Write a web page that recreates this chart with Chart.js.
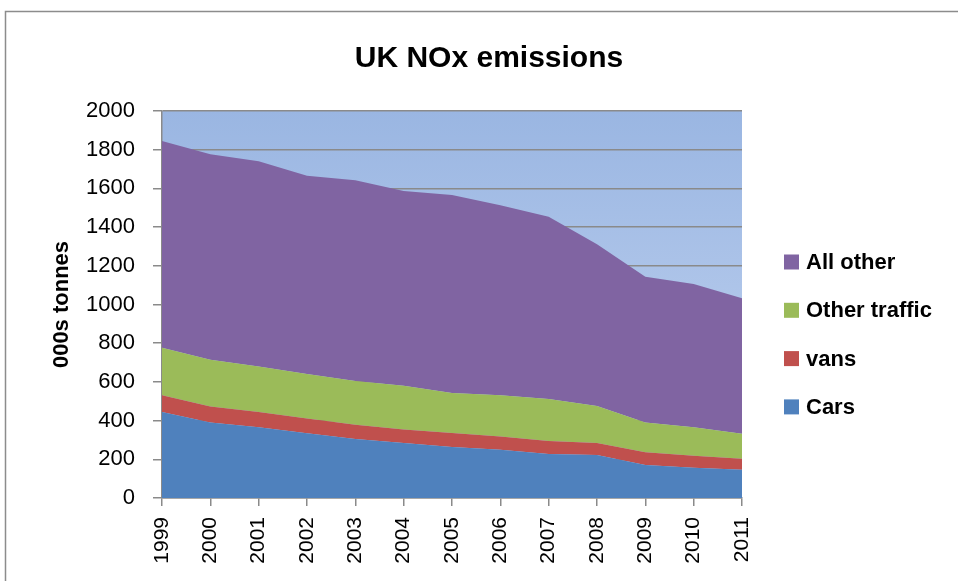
<!DOCTYPE html>
<html>
<head>
<meta charset="utf-8">
<title>UK NOx emissions</title>
<script src="https://cdn.jsdelivr.net/npm/chart.js@4/dist/chart.umd.min.js"></script>
<style>
  html, body { margin: 0; padding: 0; background: #ffffff; }
  #wrap { width: 958px; height: 581px; }
</style>
</head>
<body>
<div id="wrap"><canvas id="chart" width="958" height="581"></canvas></div>
<script>
// Years on the category axis
const years = ['1999', '2000', '2001', '2002', '2003', '2004', '2005', '2006', '2007', '2008', '2009', '2010', '2011'];

// Emissions by source, thousand tonnes (stacked from the bottom up)
const cars = [445, 390, 365, 335, 305, 284, 264, 249, 227, 222, 170, 156, 146];
const vans = [86, 83, 80, 76, 73, 70, 72, 69, 67, 62, 66, 62, 57];
const otherTraffic = [246, 241, 234, 230, 227, 226, 207, 213, 217, 192, 154, 148, 129];
const allOther = [1068, 1062, 1061, 1025, 1037, 1007, 1023, 982, 942, 836, 754, 740, 700];

const seriesNames = ['Cars', 'vans', 'Other traffic', 'All other'];
const seriesColors = ['#4F81BD', '#C0504D', '#9BBB59', '#8064A2'];
const seriesValues = [cars, vans, otherTraffic, allOther];

const chartTitle = 'UK NOx emissions';
const yAxisTitle = '000s tonnes';

const FONT = "'Liberation Sans', Arial, sans-serif";
const GRID = '#8a8a8a';

// Light blue gradient behind the plot area, plus the outer frame
const backdrop = {
  id: 'backdrop',
  beforeDraw(chart) {
    const { ctx, chartArea: a } = chart;
    ctx.save();
    ctx.fillStyle = '#ffffff';
    ctx.fillRect(0, 0, chart.width, chart.height);
    const g = ctx.createLinearGradient(0, a.top, 0, a.bottom);
    g.addColorStop(0, '#9AB6E2');
    g.addColorStop(1, '#C4D5F1');
    ctx.fillStyle = g;
    ctx.fillRect(a.left, a.top, a.right - a.left, a.bottom - a.top);
    ctx.strokeStyle = '#8c8c8c';
    ctx.lineWidth = 1.5;
    ctx.strokeRect(5.5, 11.5, chart.width + 40, chart.height + 40);
    ctx.restore();
  }
};

// Title and the legend on the right (top series listed first)
const annotations = {
  id: 'annotations',
  afterDraw(chart) {
    const { ctx } = chart;
    ctx.save();
    ctx.fillStyle = '#000000';
    ctx.font = 'bold 30px ' + FONT;
    ctx.textAlign = 'center';
    ctx.textBaseline = 'alphabetic';
    ctx.fillText(chartTitle, 489, 67);

    ctx.font = 'bold 22px ' + FONT;
    ctx.textAlign = 'left';
    ctx.textBaseline = 'middle';
    const order = [3, 2, 1, 0];
    order.forEach((idx, row) => {
      const cy = 262 + row * 48.3;
      ctx.fillStyle = seriesColors[idx];
      ctx.fillRect(784, cy - 7.5, 15, 15);
      ctx.fillStyle = '#000000';
      ctx.fillText(seriesNames[idx], 806, cy + 1);
    });
    ctx.restore();
  }
};

const datasets = seriesValues.map((vals, i) => ({
  label: seriesNames[i],
  data: vals,
  backgroundColor: seriesColors[i],
  borderColor: seriesColors[i],
  borderWidth: 0,
  pointRadius: 0,
  pointHoverRadius: 0,
  tension: 0,
  fill: i === 0 ? 'origin' : '-1'
}));

new Chart(document.getElementById('chart'), {
  type: 'line',
  data: { labels: years, datasets },
  plugins: [backdrop, annotations],
  options: {
    responsive: false,
    animation: false,
    devicePixelRatio: 1,
    layout: { padding: { left: 0, top: 111, right: 216, bottom: 0 } },
    plugins: {
      legend: { display: false },
      title: { display: false },
      tooltip: { enabled: false }
    },
    scales: {
      x: {
        type: 'category',
        offset: false,
        afterFit(scale) { scale.height = 83; },
        grid: {
          display: true,
          drawOnChartArea: false,
          drawTicks: true,
          tickLength: 8,
          color: GRID,
          lineWidth: 1.5
        },
        border: { display: true, color: GRID, width: 1.5 },
        ticks: {
          autoSkip: false,
          minRotation: 90,
          maxRotation: 90,
          padding: 11,
          color: '#000000',
          font: { family: FONT, size: 21 }
        }
      },
      y: {
        stacked: true,
        min: 0,
        max: 2000,
        afterFit(scale) { scale.width = 162; },
        grid: {
          display: true,
          drawOnChartArea: true,
          drawTicks: true,
          tickLength: 9,
          color: GRID,
          lineWidth: 1.5
        },
        border: { display: true, color: GRID, width: 1.5 },
        ticks: {
          stepSize: 200,
          padding: 18,
          color: '#000000',
          font: { family: FONT, size: 22 },
          callback: (value) => String(value)
        },
        title: {
          display: true,
          text: yAxisTitle,
          color: '#000000',
          font: { family: FONT, size: 22, weight: 'bold' },
          padding: { top: 49, bottom: 0 }
        }
      }
    }
  }
});
</script>
</body>
</html>
